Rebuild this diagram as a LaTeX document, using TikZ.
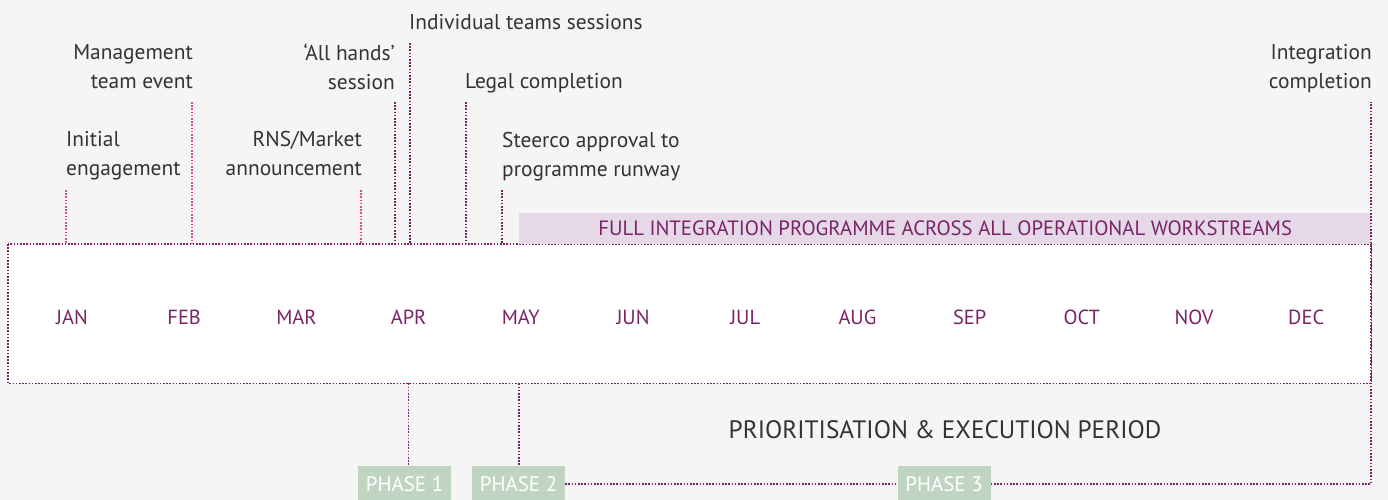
\documentclass[tikz,border=0pt]{standalone}
\usepackage{fontspec}
\setmainfont{PT Sans}
\usetikzlibrary{positioning}

\definecolor{bggrey}{HTML}{F5F5F5}
\definecolor{plum}{HTML}{7A2467}
\definecolor{rose}{HTML}{E2479A}
\definecolor{lilac}{HTML}{E5D9E8}
\definecolor{sage}{HTML}{BFD5C1}
\definecolor{ink}{HTML}{333333}

\tikzset{
	ticklink/.style={plum, line width=1.2bp, dash pattern=on 1.6bp off 1.6bp},
	event/.style={text=ink, inner sep=0pt, font=\fontsize{21.5}{29}\selectfont},
	month/.style={text=plum, inner sep=0pt, font=\fontsize{20.5}{22}\selectfont},
	phasebox/.style={fill=sage, text=white, inner sep=0pt, minimum width=93bp, minimum height=36bp, font=\fontsize{21}{22}\selectfont}
}

\begin{document}
\begin{tikzpicture}[x=1bp, y=-1bp]
	% фон
	\fill [bggrey] ( 0, 0 ) rectangle ( 1388, 500 );
	\useasboundingbox ( 0, 0 ) rectangle ( 1388, 500 );

	% полоса месяцев
	\node [fill=white, inner sep=0pt, minimum width=1363bp, minimum height=139bp, anchor=north west] (band) at ( 8, 244 ) {};
	\draw [ticklink] (band.north west) rectangle (band.south east);
	\foreach \m [count=\i] in {JAN,FEB,MAR,APR,MAY,JUN,JUL,AUG,SEP,OCT,NOV,DEC}
		\node [month] (m\i) at ( {72+112.2*(\i-1)}, 317 ) {\m};

	% программа интеграции
	\node [fill=lilac, text=plum, inner sep=0pt, minimum width=852bp, minimum height=31bp, anchor=south east, font=\fontsize{20.8}{22}\selectfont] (prog) at (band.north east) {FULL INTEGRATION PROGRAMME ACROSS ALL OPERATIONAL WORKSTREAMS};

	% события
	\node [event, align=left,  anchor=north west] (init)   at (   66, 131 ) {Initial\\engagement};
	\node [event, align=right, anchor=north east] (mgmt)   at (  193,  44 ) {Management\\team event};
	\node [event, align=right, anchor=north east] (rns)    at (  362, 131 ) {RNS/Market\\announcement};
	\node [event, align=right, anchor=north east] (hands)  at (  395,  44 ) {`All hands'\\session};
	\node [event, align=left,  anchor=north west] (indiv)  at (  409,  14 ) {Individual teams sessions};
	\node [event, align=left,  anchor=north west] (legal)  at (  465,  73 ) {Legal completion};
	\node [event, align=left,  anchor=north west] (steer)  at (  502, 132 ) {Steerco approval to\\programme runway};
	\node [event, align=right, anchor=north east] (integ)  at ( 1372,  44 ) {Integration\\completion};

	% отметки
	\foreach \n/\x/\y in {init/66/190, mgmt/192/102, rns/361/190, hands/395/102, indiv/410/43, legal/466/102, steer/502/190, integ/1371/102}
		\coordinate (t-\n) at ( \x, \y );
	\foreach \n/\c in {init/rose, mgmt/rose, rns/rose, hands/plum, indiv/plum, legal/plum, steer/plum}
		\draw [ticklink, \c] (t-\n) -- (t-\n |- band.north);

	% фазы
	\node [phasebox] (ph1) at ( 404.5, 484 ) {PHASE 1};
	\node [phasebox] (ph2) at ( 518.5, 484 ) {PHASE 2};
	\node [phasebox] (ph3) at (   944, 484 ) {PHASE 3};
	\draw [ticklink] (m4 |- band.south) -- (m4 |- ph1.north);
	\draw [ticklink] (prog.south west |- band.south) -- (prog.south west |- ph2.north);
	\draw [ticklink] (ph2.east) -- (ph3.west);
	\draw [ticklink] (ph3.east) -- (t-integ |- ph3.east) -- (t-integ);

	\node [text=ink, inner sep=0pt, font=\fontsize{25.3}{28}\selectfont] (period) at ( 945, 430 ) {PRIORITISATION \& EXECUTION PERIOD};
\end{tikzpicture}
\end{document}
